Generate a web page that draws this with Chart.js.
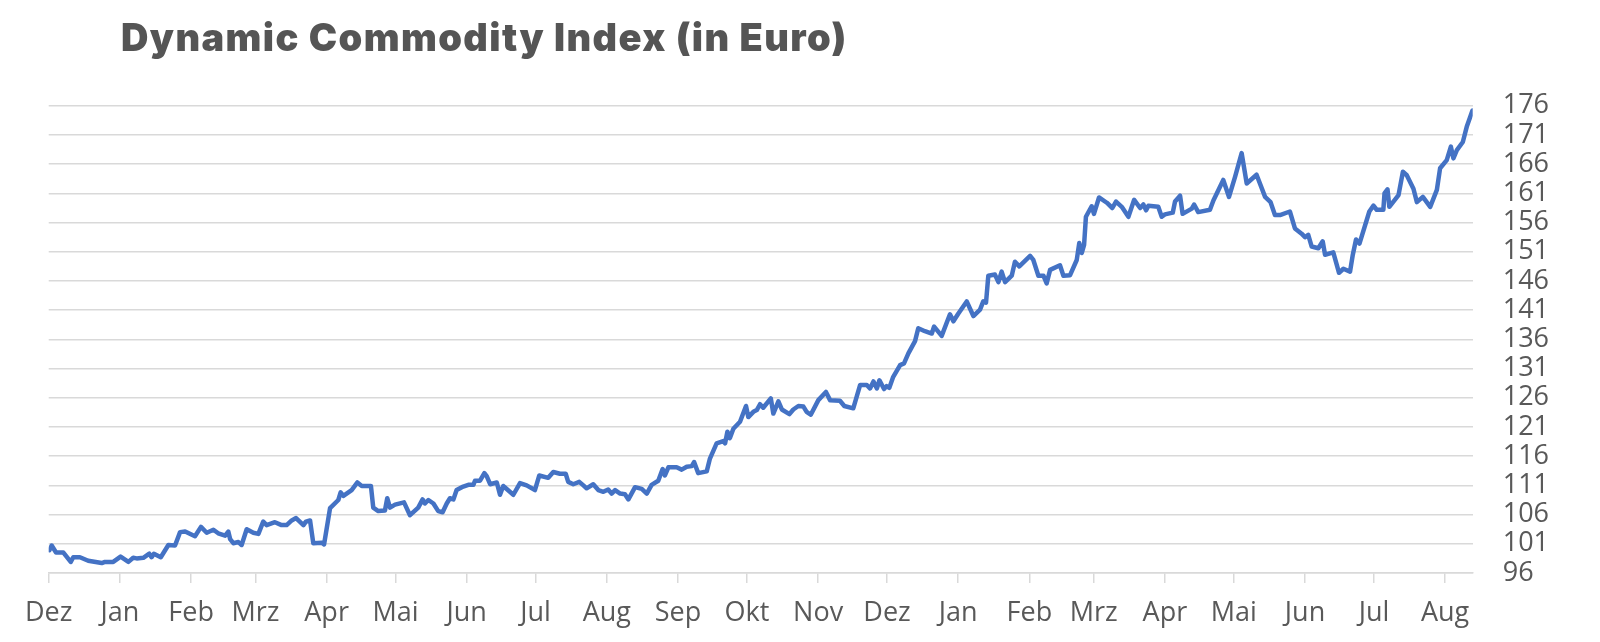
<!DOCTYPE html>
<html lang="de">
<head>
<meta charset="UTF-8">
<title>Dynamic Commodity Index (in Euro)</title>
<script src="https://cdn.jsdelivr.net/npm/chart.js@4"></script>
<style>
    body {
        margin: 0;
        padding: 0;
        background: #ffffff;
    }

    .wrap {
        position: relative;
        width: 1600px;
        height: 642px;
    }

    .title {
        position: absolute;
        left: 121px;
        top: 18px;
        margin: 0;
        font-family: Inter, "DejaVu Sans", sans-serif;
        font-weight: 900;
        font-size: 38px;
        letter-spacing: 1.4px;
        line-height: 1;
        color: #555555;
        white-space: nowrap;
    }
</style>
</head>
<body>
<div class="wrap">
    <h1 class="title">Dynamic Commodity Index (in Euro)</h1>
    <canvas id="dci" width="1600" height="642"></canvas>
</div>

<script>
// month axis: labels and number of days in each month, first one starts at day 0
const monthLabels = ["Dez", "Jan", "Feb", "Mrz", "Apr", "Mai", "Jun", "Jul", "Aug", "Sep", "Okt", "Nov",
                     "Dez", "Jan", "Feb", "Mrz", "Apr", "Mai", "Jun", "Jul", "Aug"];
const monthLengths = [31, 31, 28, 31, 30, 31, 30, 31, 31, 30, 31, 30,
                      31, 31, 28, 31, 30, 31, 30, 31, 31];
const lastDay = 620;

// y axis
const yMin = 96;
const yMax = 176;
const yStep = 5;

// index series: day since 1 Dez and index level
const dayOffsets = [
    0.3, 1.3, 3.2, 6.4, 9.6, 10.7, 13.6, 17.2, 23.1, 24.5, 28.1, 31.3, 34.7, 36.8, 38.3, 41.2,
    43.8, 44.8, 45.8, 48.8, 52.1, 55.0, 57.2, 59.4, 63.7, 66.3, 68.8, 71.7, 73.8, 76.8, 78.2, 79.0,
    80.4, 82.6, 84.0, 86.2, 89.1, 91.3, 93.4, 94.9, 98.5, 101.4, 103.6, 105.8, 107.7, 110.9, 112.0, 113.8,
    115.2, 118.9, 119.9, 122.5, 126.1, 127.1, 128.3, 131.9, 134.4, 136.3, 140.3, 141.3, 143.5, 146.4, 147.4, 148.6,
    150.8, 154.7, 157.3, 160.9, 162.8, 163.8, 165.3, 167.5, 169.6, 171.5, 173.3, 174.7, 176.2, 177.6, 180.5, 182.7,
    184.9, 185.6, 187.8, 189.7, 190.7, 192.2, 195.1, 196.5, 197.9, 202.3, 205.2, 208.1, 211.7, 213.6, 217.5, 219.7,
    222.6, 225.1, 226.2, 228.4, 231.0, 232.8, 234.2, 237.1, 239.3, 241.5, 243.6, 245.1, 246.6, 248.8, 250.9, 252.4,
    255.3, 258.2, 260.4, 262.5, 265.4, 267.3, 268.3, 269.8, 273.4, 275.6, 277.8, 280.0, 281.0, 282.8, 286.5, 287.9,
    290.8, 293.7, 294.5, 295.5, 296.6, 298.1, 301.0, 303.6, 304.6, 306.8, 308.3, 309.7, 311.1, 314.4, 315.5, 317.7,
    319.2, 322.5, 324.2, 326.4, 328.6, 330.0, 331.8, 335.1, 338.4, 340.2, 344.5, 346.4, 350.3, 353.3, 356.2, 357.6,
    359.1, 360.6, 361.7, 363.7, 364.8, 366.0, 367.7, 370.7, 372.4, 374.3, 377.2, 378.6, 381.5, 384.5, 385.5, 388.8,
    392.4, 393.9, 396.0, 399.7, 402.6, 405.5, 406.9, 408.1, 409.1, 412.0, 413.5, 414.9, 416.4, 419.3, 420.7, 422.6,
    427.3, 428.7, 430.9, 433.1, 434.5, 436.0, 440.3, 441.8, 444.7, 447.6, 448.7, 449.8, 450.8, 451.6, 454.1, 455.1,
    457.3, 460.7, 463.1, 464.7, 467.2, 470.1, 472.6, 475.2, 476.6, 477.8, 478.8, 483.1, 484.6, 486.0, 489.4, 490.4,
    492.6, 493.7, 497.7, 498.7, 500.5, 505.6, 507.1, 511.4, 513.9, 516.5, 519.4, 521.6, 525.9, 529.6, 532.0, 533.9,
    536.1, 540.4, 542.6, 545.5, 547.0, 548.4, 549.9, 552.8, 554.7, 555.7, 559.3, 561.8, 563.7, 566.6, 567.8, 569.2,
    570.7, 575.0, 576.8, 578.2, 581.1, 581.6, 582.9, 583.7, 587.7, 589.6, 591.3, 594.2, 595.7, 598.3, 601.5, 604.4,
    605.8, 608.7, 610.5, 611.6, 613.1, 615.7, 617.4, 619.9
];
const indexValues = [
    99.9, 100.7, 99.5, 99.5, 97.9, 98.7, 98.7, 98.1, 97.7, 97.9, 97.9, 98.8, 97.9, 98.6, 98.5, 98.6,
    99.3, 98.7, 99.3, 98.7, 100.8, 100.7, 103.0, 103.1, 102.3, 103.9, 102.9, 103.4, 102.8, 102.4, 103.1, 101.8,
    101.1, 101.3, 100.8, 103.5, 102.9, 102.7, 104.8, 104.2, 104.7, 104.2, 104.2, 105.0, 105.4, 104.2, 104.8, 105.0,
    101.1, 101.2, 100.9, 107.1, 108.5, 109.8, 109.2, 110.2, 111.5, 110.9, 110.9, 107.2, 106.6, 106.7, 108.8, 107.2,
    107.7, 108.1, 105.9, 107.2, 108.6, 107.9, 108.5, 107.9, 106.6, 106.4, 107.9, 108.8, 108.6, 110.2, 110.8, 111.1,
    111.1, 111.8, 111.8, 113.1, 112.6, 111.2, 111.5, 109.4, 110.9, 109.4, 111.4, 111.0, 110.2, 112.7, 112.3, 113.3,
    113.0, 113.0, 111.6, 111.2, 111.6, 111.0, 110.5, 111.2, 110.2, 109.9, 110.3, 109.6, 110.2, 109.6, 109.5, 108.6,
    110.7, 110.4, 109.6, 111.1, 111.8, 113.8, 112.7, 114.1, 114.1, 113.7, 114.2, 114.3, 115.0, 113.1, 113.4, 115.6,
    118.2, 118.6, 118.2, 120.2, 119.1, 120.7, 121.9, 124.6, 122.7, 123.6, 123.9, 124.9, 124.3, 125.9, 123.3, 125.4,
    124.0, 123.2, 124.0, 124.6, 124.5, 123.6, 123.1, 125.6, 127.0, 125.6, 125.5, 124.6, 124.2, 128.2, 128.2, 127.6,
    128.8, 127.6, 129.0, 127.5, 128.0, 127.7, 129.6, 131.6, 131.9, 133.6, 135.7, 137.9, 137.4, 137.0, 138.2, 136.6,
    140.3, 139.1, 140.4, 142.5, 140.0, 141.1, 142.5, 142.3, 146.9, 147.1, 145.8, 147.6, 145.8, 146.9, 149.3, 148.5,
    150.3, 149.6, 146.9, 146.9, 145.6, 147.9, 148.7, 146.9, 147.0, 149.6, 152.5, 150.8, 152.2, 157.0, 158.8, 157.5,
    160.3, 159.4, 158.5, 159.6, 158.7, 157.0, 159.9, 158.5, 159.1, 158.1, 158.9, 158.7, 157.0, 157.4, 157.7, 159.6,
    160.6, 157.5, 158.4, 159.1, 157.8, 158.2, 159.8, 163.3, 160.4, 163.8, 167.9, 162.7, 164.2, 160.4, 159.5, 157.3,
    157.3, 157.9, 155.0, 154.1, 153.5, 153.9, 151.9, 151.6, 152.8, 150.5, 150.9, 147.4, 148.1, 147.6, 150.5, 153.1,
    152.4, 157.9, 158.9, 158.2, 158.2, 161.0, 161.7, 158.7, 160.7, 164.7, 164.1, 161.8, 159.5, 160.4, 158.7, 161.6,
    165.3, 166.7, 169.0, 167.0, 168.4, 169.8, 172.4, 175.2
];

// day offset of every month start
const monthStarts = [];
let acc = 0;
for (let i = 0; i < monthLabels.length; i++) {
    monthStarts.push(acc);
    acc += monthLengths[i];
}

const points = dayOffsets.map((d, i) => ({ x: d, y: indexValues[i] }));

const gridGrey = "#d9d9d9";
const textGrey = "#595959";

new Chart(document.getElementById("dci"), {
    type: "line",
    data: {
        datasets: [{
            label: "Dynamic Commodity Index",
            data: points,
            borderColor: "#4472c4",
            borderWidth: 4.5,
            pointRadius: 0,
            tension: 0,
            borderJoinStyle: "round",
            borderCapStyle: "round"
        }]
    },
    options: {
        responsive: false,
        animation: false,
        devicePixelRatio: 1,
        layout: {
            padding: { left: 48.7, top: 105.8, right: 0, bottom: 0 }
        },
        plugins: {
            legend: { display: false },
            tooltip: { enabled: false }
        },
        scales: {
            x: {
                type: "linear",
                min: 0,
                max: lastDay,
                afterBuildTicks: function (scale) {
                    scale.ticks = monthStarts.map(v => ({ value: v }));
                },
                afterFit: function (scale) {
                    scale.height = 69;
                },
                ticks: {
                    autoSkip: false,
                    maxRotation: 0,
                    padding: 14,
                    color: textGrey,
                    font: { family: "'Open Sans', sans-serif", size: 27 },
                    callback: function (value) {
                        const i = monthStarts.indexOf(value);
                        return i >= 0 ? monthLabels[i] : "";
                    }
                },
                grid: {
                    drawOnChartArea: false,
                    drawTicks: true,
                    tickLength: 10,
                    color: gridGrey,
                    lineWidth: 1.5
                },
                border: { display: true, color: gridGrey, width: 1.5 }
            },
            y: {
                position: "right",
                min: yMin,
                max: yMax,
                afterFit: function (scale) {
                    scale.width = 127.3;
                },
                ticks: {
                    stepSize: yStep,
                    autoSkip: false,
                    padding: 30,
                    color: textGrey,
                    font: { family: "'Open Sans', sans-serif", size: 27 }
                },
                grid: {
                    drawTicks: false,
                    color: gridGrey,
                    lineWidth: 1.5
                },
                border: { display: false }
            }
        }
    }
});
</script>
</body>
</html>
